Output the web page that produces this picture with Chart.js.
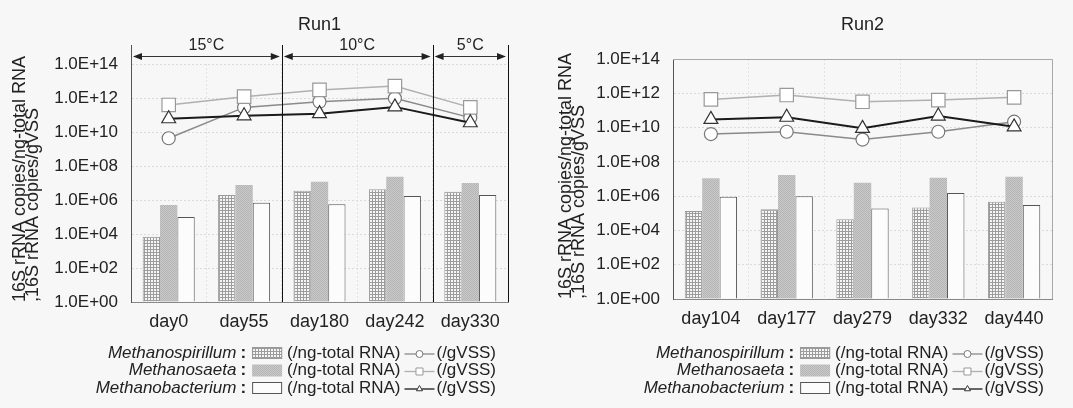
<!DOCTYPE html>
<html lang="en">
<head>
<meta charset="UTF-8">
<title>16S rRNA copies, Run1 and Run2</title>
<script src="https://cdn.jsdelivr.net/npm/chart.js"></script>
<style>
  body { margin: 0; background: #f7f7f7; }
  #wrap { position: relative; width: 1073px; height: 408px; }
  canvas { position: absolute; top: 0; }
</style>
</head>
<body>
<div id="wrap">
  <canvas id="run1" width="536" height="408" style="left:0"></canvas>
  <canvas id="run2" width="537" height="408" style="left:536px"></canvas>
</div>
<script>
// categories
const run1Days = ['day0', 'day55', 'day180', 'day242', 'day330'];
const run2Days = ['day104', 'day177', 'day279', 'day332', 'day440'];

// Run1 bars (/ng-total RNA)
const run1SpirillumRNA = [7e3, 2e6, 3.5e6, 4.3e6, 3.1e6];
const run1SaetaRNA = [5e5, 7.5e6, 1.2e7, 2.3e7, 1e7];
const run1BacteriumRNA = [1e5, 7e5, 5.6e5, 1.7e6, 2e6];
// Run1 lines (/gVSS)
const run1SpirillumVSS = [4.3e9, 2.8e11, 6e11, 9.6e11, 7e10];
const run1SaetaVSS = [3.9e11, 1.2e12, 3e12, 5e12, 2.8e11];
const run1BacteriumVSS = [6e10, 9e10, 1.2e11, 3e11, 3.5e10];

// Run2 bars (/ng-total RNA)
const run2SpirillumRNA = [1.35e5, 1.7e5, 4.5e4, 2.2e5, 4.7e5];
const run2SaetaRNA = [1.1e7, 1.7e7, 6e6, 1.2e7, 1.35e7];
const run2BacteriumRNA = [9.3e5, 1e6, 1.9e5, 1.5e6, 3e5];
// Run2 lines (/gVSS)
const run2SpirillumVSS = [4.2e9, 5.7e9, 2e9, 5.7e9, 2.2e10];
const run2SaetaVSS = [4.4e11, 7.9e11, 3.2e11, 4e11, 5.8e11];
const run2BacteriumVSS = [3e10, 4e10, 9e9, 4.7e10, 1.1e10];

// y axis
const yTickValues = [1e0, 1e2, 1e4, 1e6, 1e8, 1e10, 1e12, 1e14];
const yTickLabels = ['1.0E+00', '1.0E+02', '1.0E+04', '1.0E+06', '1.0E+08', '1.0E+10', '1.0E+12', '1.0E+14'];
const yTitle = ['16S rRNA copies/ng-total RNA', ',16S rRNA copies/gVSS'];

// temperature periods of Run1
const run1Periods = ['15°C', '10°C', '5°C'];
const run1PeriodLast = [1, 3, 4];

const speciesNames = ['Methanospirillum', 'Methanosaeta', 'Methanobacterium'];

const FONT = '"Liberation Sans", Arial, sans-serif';
Chart.defaults.font.family = FONT;
Chart.defaults.color = '#222';

function makePattern(size, draw) {
  const c = document.createElement('canvas');
  c.width = size; c.height = size;
  const g = c.getContext('2d');
  draw(g);
  return g.createPattern(c, 'repeat');
}
const gridFill = makePattern(3, g => {
  g.fillStyle = '#f6f6f6'; g.fillRect(0, 0, 3, 3);
  g.fillStyle = '#9c9c9c'; g.fillRect(0, 0, 3, 1); g.fillRect(0, 0, 1, 3);
});
const dotFill = makePattern(2, g => {
  g.fillStyle = '#c9c9c9'; g.fillRect(0, 0, 2, 2);
  g.fillStyle = '#b5b5b5'; g.fillRect(0, 0, 1, 1); g.fillRect(1, 1, 1, 1);
});

const barStyles = [
  { fill: gridFill, border: '#999', width: 1 },
  { fill: dotFill, border: '#c0c0c0', width: 0 },
  { fill: '#fcfcfc', border: '#555', width: 1 }
];
const lineStyles = [
  { color: '#8a8a8a', width: 1.5, point: 'circle', r: 6.5, pBorder: '#777' },
  { color: '#b0b0b0', width: 1.5, point: 'rect', r: 9.5, pBorder: '#999' },
  { color: '#1a1a1a', width: 2, point: 'triangle', r: 8, pBorder: '#333' }
];

function buildDatasets(rna, vss) {
  const sets = [];
  vss.forEach((data, i) => {
    const s = lineStyles[i];
    sets.push({
      type: 'line', label: speciesNames[i] + ' (/gVSS)', data,
      borderColor: s.color, borderWidth: s.width,
      pointStyle: s.point, pointRadius: s.r, pointBackgroundColor: '#fff',
      pointBorderColor: s.pBorder, pointBorderWidth: 1.2,
      order: 3 - i
    });
  });
  rna.forEach((data, i) => {
    const s = barStyles[i];
    sets.push({
      type: 'bar', label: speciesNames[i] + ' (/ng-total RNA)', data,
      backgroundColor: s.fill, borderColor: s.border, borderWidth: s.width,
      base: 1, barPercentage: 1, categoryPercentage: 0.69, order: 4
    });
  });
  return sets;
}

function drawMarker(ctx, style, x, y, r) {
  ctx.beginPath();
  if (style === 'circle') {
    ctx.arc(x, y, r, 0, Math.PI * 2);
  } else if (style === 'rect') {
    ctx.rect(x - r, y - r, 2 * r, 2 * r);
  } else {
    ctx.moveTo(x, y - r);
    ctx.lineTo(x + r * 0.87, y + r * 0.5);
    ctx.lineTo(x - r * 0.87, y + r * 0.5);
    ctx.closePath();
  }
  ctx.fill();
  ctx.stroke();
}

// chart title, frame and species legend under the axis
const decorPlugin = {
  id: 'decor',
  afterDraw(chart, args, opts) {
    const ctx = chart.ctx;
    const area = chart.chartArea;
    ctx.save();
    ctx.fillStyle = '#222';
    ctx.font = '18px ' + FONT;
    ctx.textAlign = 'center';
    ctx.textBaseline = 'middle';
    ctx.fillText(opts.title, (area.left + area.right) / 2, 25);

    if (opts.frame) {
      ctx.strokeStyle = '#a8a8a8';
      ctx.lineWidth = 1;
      ctx.beginPath();
      ctx.moveTo(area.left, area.top + 0.5);
      ctx.lineTo(area.right + 0.5, area.top + 0.5);
      ctx.lineTo(area.right + 0.5, area.bottom);
      ctx.stroke();
    }

    let y = 353;
    speciesNames.forEach((name, i) => {
      ctx.textAlign = 'right';
      ctx.fillStyle = '#222';
      ctx.font = '17px ' + FONT;
      let x = area.right - opts.legendInset;
      ctx.fillText('(/gVSS)', x, y);
      x -= ctx.measureText('(/gVSS)').width + 2;
      const ls = lineStyles[i];
      ctx.strokeStyle = ls.color;
      ctx.lineWidth = 1.3;
      ctx.beginPath();
      ctx.moveTo(x - 30, y + 1);
      ctx.lineTo(x, y + 1);
      ctx.stroke();
      ctx.fillStyle = '#fff';
      ctx.strokeStyle = ls.pBorder;
      ctx.lineWidth = 1;
      drawMarker(ctx, ls.point, x - 15, y + 1, 3.5);
      x -= 34;
      ctx.fillStyle = '#222';
      ctx.fillText('(/ng-total RNA)', x, y);
      x -= ctx.measureText('(/ng-total RNA)').width + 5;
      const bs = barStyles[i];
      ctx.fillStyle = bs.fill;
      ctx.fillRect(x - 30, y - 6, 30, 12);
      if (bs.width) {
        ctx.strokeStyle = bs.border;
        ctx.lineWidth = 1;
        ctx.strokeRect(x - 29.5, y - 5.5, 29, 11);
      }
      x -= 36;
      ctx.fillStyle = '#222';
      ctx.font = 'bold 17px ' + FONT;
      ctx.fillText(':', x, y);
      x -= ctx.measureText(':').width + 4;
      ctx.font = 'italic 17px ' + FONT;
      ctx.fillText(name, x, y);
      y += 17.5;
    });
    ctx.restore();
  }
};

// temperature spans above Run1
const periodPlugin = {
  id: 'periods',
  afterDatasetsDraw(chart) {
    const ctx = chart.ctx;
    const xs = chart.scales.x;
    const area = chart.chartArea;
    const half = (xs.getPixelForValue(1) - xs.getPixelForValue(0)) / 2;
    const edges = [xs.getPixelForValue(0) - half].concat(run1PeriodLast.map(i => xs.getPixelForValue(i) + half));
    ctx.save();
    edges.forEach((e, k) => {
      const px = Math.round(e) + 0.5;
      ctx.strokeStyle = k === 0 ? '#555' : '#111';
      ctx.lineWidth = 1;
      ctx.beginPath();
      ctx.moveTo(px, 45);
      ctx.lineTo(px, area.bottom);
      ctx.stroke();
    });
    const ay = 56.5;
    ctx.fillStyle = '#222';
    ctx.strokeStyle = '#333';
    run1Periods.forEach((label, k) => {
      const a = edges[k] + 2, b = edges[k + 1] - 2;
      ctx.beginPath();
      ctx.moveTo(a + 6, ay);
      ctx.lineTo(b - 6, ay);
      ctx.stroke();
      ctx.beginPath();
      ctx.moveTo(a, ay); ctx.lineTo(a + 9, ay - 3.5); ctx.lineTo(a + 9, ay + 3.5); ctx.closePath();
      ctx.moveTo(b, ay); ctx.lineTo(b - 9, ay - 3.5); ctx.lineTo(b - 9, ay + 3.5); ctx.closePath();
      ctx.fill();
      ctx.font = '16px ' + FONT;
      ctx.textAlign = 'center';
      ctx.textBaseline = 'middle';
      ctx.fillText(label, (edges[k] + edges[k + 1]) / 2, 46);
    });
    ctx.restore();
  }
};

function makeChart(id, title, days, rna, vss, box, extra) {
  return new Chart(document.getElementById(id), {
    data: { labels: days, datasets: buildDatasets(rna, vss) },
    options: {
      responsive: false,
      animation: false,
      devicePixelRatio: 1,
      layout: { padding: { top: box.top, right: box.right, left: 0, bottom: 0 } },
      plugins: {
        legend: { display: false },
        tooltip: { enabled: false },
        decor: { title, frame: box.frame, legendInset: box.legendInset }
      },
      scales: {
        x: {
          type: 'category',
          offset: true,
          grid: { color: '#e2e2e2', drawTicks: false },
          border: { color: '#888', dash: [2, 2] },
          ticks: { font: { size: 18 }, padding: 9, color: '#222', maxRotation: 0 },
          afterFit(scale) { scale.height = box.xHeight; }
        },
        y: {
          type: 'logarithmic',
          min: 1,
          max: 1e14,
          grid: { color: '#dadada', drawTicks: false },
          border: { color: '#555', dash: [2, 2] },
          afterBuildTicks(scale) { scale.ticks = yTickValues.map(v => ({ value: v })); },
          ticks: {
            font: { size: 17 }, padding: 13, color: '#222', autoSkip: false,
            callback: (v, i) => yTickLabels[i]
          },
          title: {
            display: true, text: yTitle, align: 'start',
            font: { size: 18, lineHeight: 0.72 }, padding: { top: box.titlePad, bottom: 0 }, color: '#222'
          },
          afterFit(scale) { scale.width = box.yWidth; }
        }
      }
    },
    plugins: [decorPlugin].concat(extra)
  });
}

makeChart('run1', 'Run1', run1Days,
  [run1SpirillumRNA, run1SaetaRNA, run1BacteriumRNA],
  [run1SpirillumVSS, run1SaetaVSS, run1BacteriumVSS],
  { top: 64, right: 28, yWidth: 131, xHeight: 106, titlePad: 13.5, frame: false, legendInset: 12 },
  [periodPlugin]);

makeChart('run2', 'Run2', run2Days,
  [run2SpirillumRNA, run2SaetaRNA, run2BacteriumRNA],
  [run2SpirillumVSS, run2SaetaVSS, run2BacteriumVSS],
  { top: 59, right: 21, yWidth: 137, xHeight: 109, titlePad: 23.5, frame: true, legendInset: 8 },
  []);
</script>
</body>
</html>
